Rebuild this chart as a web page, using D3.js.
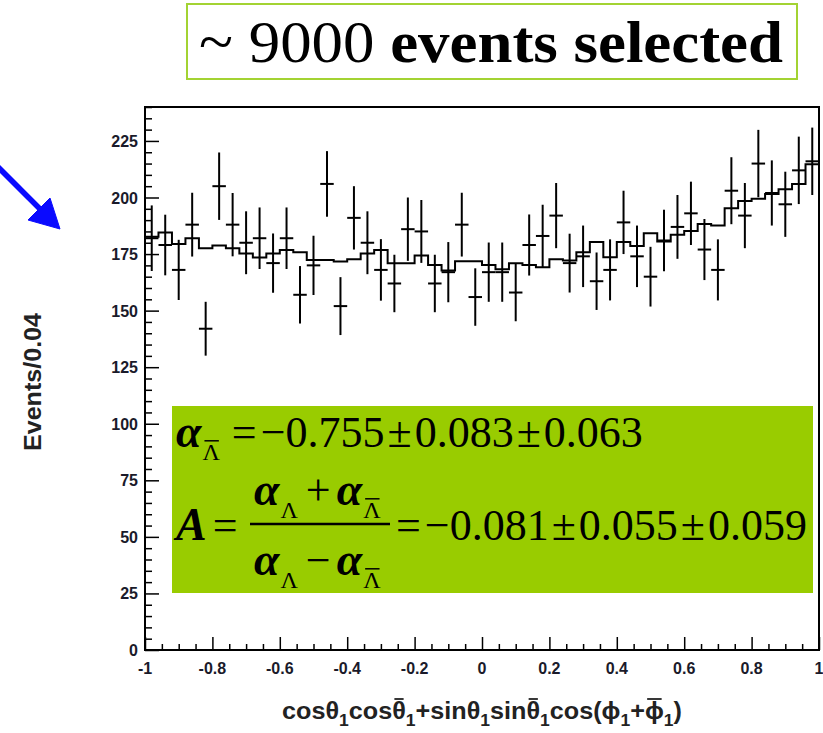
<!DOCTYPE html>
<html>
<head>
<meta charset="utf-8">
<script src="https://cdn.jsdelivr.net/npm/d3@7"></script>
<style>
    body { margin: 0; background: #fff; }
    svg { display: block; }
</style>
</head>
<body>
<div id="chart"></div>
<script>
// Histogram: 50 bins of 0.04 from -1 to 1
var xMin = -1, xMax = 1, nBins = 50;

// Data points (events per bin)
var counts = [182, 179, 168, 188, 142, 205, 188, 180, 182, 171,
              182, 157, 170, 206, 152, 191, 180, 168, 162, 186,
              185, 162, 167, 188, 156, 167, 167, 158, 179, 183,
              192, 171, 174, 163, 168, 189, 174, 165, 181, 187,
              193, 177, 168, 203, 192, 215, 202, 197, 212, 216];

// Half length of the error bars
var errors = [14.5, 13.4, 13.3, 14.1, 11.9, 14.9, 14.0, 13.9, 13.6, 13.1,
              13.6, 12.7, 13.1, 14.5, 12.8, 14.0, 13.9, 13.6, 12.7, 14.0,
              13.9, 12.7, 13.3, 14.1, 12.7, 13.1, 13.1, 12.7, 13.5, 13.8,
              14.4, 13.0, 13.6, 12.7, 13.5, 14.0, 13.6, 13.2, 13.6, 14.1,
              14.0, 13.5, 13.5, 14.8, 14.4, 14.9, 14.4, 14.4, 14.9, 14.9];

// Fit result (step histogram)
var fitValues = [182.7, 184.5, 179.5, 182.0, 177.6, 178.8, 177.6, 175.3, 173.5, 175.3,
                 176.8, 175.8, 172.4, 172.4, 171.7, 172.7, 175.3, 176.8, 170.9, 170.9,
                 174.4, 170.2, 167.7, 171.8, 171.8, 170.2, 168.3, 170.9, 170.2, 169.2,
                 172.7, 172.1, 175.8, 180.3, 173.6, 180.3, 178.6, 184.2, 180.6, 183.5,
                 185.2, 188.3, 187.6, 195.3, 198.5, 199.4, 201.5, 203.7, 206.0, 214.7];

// Tick labels
var xTickValues = [-1, -0.8, -0.6, -0.4, -0.2, 0, 0.2, 0.4, 0.6, 0.8, 1];
var xTickLabels = ['-1', '-0.8', '-0.6', '-0.4', '-0.2', '0', '0.2', '0.4', '0.6', '0.8', '1'];
var yTickValues = [0, 25, 50, 75, 100, 125, 150, 175, 200, 225];

var yTitle = 'Events/0.04';
var headline = ['~ 9000 ', 'events selected'];

var W = 823, H = 733;
var frame = { left: 145, right: 819, top: 107, bottom: 650 };

var svg = d3.select('#chart').append('svg')
    .attr('width', W)
    .attr('height', H);

var x = d3.scaleLinear().domain([xMin, xMax]).range([frame.left, frame.right]);
var y = d3.scaleLinear().domain([0, 240]).range([frame.bottom, frame.top]);

var binW = (xMax - xMin) / nBins;
var bins = counts.map(function (c, i) {
    var lo = xMin + i * binW;
    return { lo: lo, hi: lo + binW, mid: lo + binW / 2, n: c, err: errors[i], fit: fitValues[i] };
});

// Axes: ROOT style ticks pointing inward
var xAxis = svg.append('g')
    .attr('transform', 'translate(0,' + frame.bottom + ')')
    .call(d3.axisTop(x).tickValues(d3.range(-1, 1.0001, 0.05)).tickSize(6).tickFormat(''));
xAxis.selectAll('.tick line')
    .attr('y2', function (d) { return Math.abs(d * 5 - Math.round(d * 5)) < 1e-6 ? -13 : -6; });

var yAxis = svg.append('g')
    .attr('transform', 'translate(' + frame.left + ',0)')
    .call(d3.axisRight(y).tickValues(d3.range(0, 241, 5)).tickSize(7).tickFormat(''));
yAxis.selectAll('.tick line')
    .attr('x2', function (d) { return d % 25 === 0 ? 14 : 7; });

svg.selectAll('.domain').remove();
svg.selectAll('.tick line').attr('stroke', '#000').attr('stroke-width', 1.5);

// Frame
svg.append('rect')
    .attr('x', frame.left)
    .attr('y', frame.top)
    .attr('width', frame.right - frame.left)
    .attr('height', frame.bottom - frame.top)
    .attr('fill', 'none')
    .attr('stroke', '#000')
    .attr('stroke-width', 2);

// Tick labels
svg.selectAll('.xlab')
    .data(xTickValues)
    .enter().append('text')
    .attr('class', 'xlab')
    .attr('x', function (d) { return x(d); })
    .attr('y', 674)
    .attr('text-anchor', 'middle')
    .style('font-family', 'Liberation Sans, Arial, sans-serif')
    .style('font-weight', 'bold')
    .style('font-size', '16px')
    .attr('fill', '#1a1a2a')
    .text(function (d, i) { return xTickLabels[i]; });

svg.selectAll('.ylab')
    .data(yTickValues)
    .enter().append('text')
    .attr('class', 'ylab')
    .attr('x', 138)
    .attr('y', function (d) { return y(d) + 6; })
    .attr('text-anchor', 'end')
    .style('font-family', 'Liberation Sans, Arial, sans-serif')
    .style('font-weight', 'bold')
    .style('font-size', '16px')
    .attr('fill', '#1a1a2a')
    .text(function (d) { return d; });

// Axis titles
svg.append('text')
    .attr('transform', 'translate(41,382) rotate(-90)')
    .attr('text-anchor', 'middle')
    .attr('textLength', 138)
    .attr('lengthAdjust', 'spacingAndGlyphs')
    .style('font-family', 'Liberation Sans, Arial, sans-serif')
    .style('font-weight', 'bold')
    .style('font-size', '23px')
    .attr('fill', '#222')
    .text(yTitle);

// x title, written piece by piece so the bars sit over theta / phi
var xTitleParts = [
    { t: 'cos\u03b8' }, { t: '1', sub: true }, { t: 'cos' }, { t: '\u03b8', bar: true }, { t: '1', sub: true },
    { t: '+sin\u03b8' }, { t: '1', sub: true }, { t: 'sin' }, { t: '\u03b8', bar: true }, { t: '1', sub: true },
    { t: 'cos(\u03d5' }, { t: '1', sub: true }, { t: '+' }, { t: '\u03d5', bar: true }, { t: '1', sub: true },
    { t: ')' }
];
var xTitleG = svg.append('g');
var tx = 0;
xTitleParts.forEach(function (p) {
    var t = xTitleG.append('text')
        .attr('x', tx)
        .attr('y', p.sub ? 7 : 0)
        .style('font-family', 'Liberation Sans, Arial, sans-serif')
        .style('font-weight', 'bold')
        .style('font-size', p.sub ? '16px' : '23px')
        .attr('fill', '#222')
        .text(p.t);
    var w = t.node().getComputedTextLength();
    if (p.bar) {
        xTitleG.append('line')
            .attr('x1', tx + 2).attr('x2', tx + w - 2)
            .attr('y1', -20).attr('y2', -20)
            .attr('stroke', '#222').attr('stroke-width', 1.8);
    }
    tx += w;
});
var sx = 400 / tx;
xTitleG.attr('transform', 'translate(' + (482 - 200) + ',719) scale(' + sx + ',1)');

// Fit histogram (step line)
var stepPts = [];
bins.forEach(function (b) {
    stepPts.push([b.lo, b.fit]);
    stepPts.push([b.hi, b.fit]);
});
var line = d3.line()
    .x(function (d) { return x(d[0]); })
    .y(function (d) { return y(d[1]); });
svg.append('path')
    .datum(stepPts)
    .attr('d', line)
    .attr('fill', 'none')
    .attr('stroke', '#000')
    .attr('stroke-width', 2);

// Data points with error bars
var pts = svg.selectAll('.pt')
    .data(bins)
    .enter().append('g')
    .attr('class', 'pt');
pts.append('line')
    .attr('x1', function (d) { return x(d.mid); })
    .attr('x2', function (d) { return x(d.mid); })
    .attr('y1', function (d) { return y(d.n - d.err); })
    .attr('y2', function (d) { return y(d.n + d.err); })
    .attr('stroke', '#000')
    .attr('stroke-width', 2);
pts.append('line')
    .attr('x1', function (d) { return x(d.lo); })
    .attr('x2', function (d) { return x(d.hi); })
    .attr('y1', function (d) { return y(d.n); })
    .attr('y2', function (d) { return y(d.n); })
    .attr('stroke', '#000')
    .attr('stroke-width', 2);

// Headline box
svg.append('rect')
    .attr('x', 187).attr('y', 4)
    .attr('width', 610).attr('height', 75)
    .attr('fill', '#fff')
    .attr('stroke', '#a3d333')
    .attr('stroke-width', 2);
var head = svg.append('text')
    .attr('x', 199).attr('y', 62)
    .attr('textLength', 584)
    .attr('lengthAdjust', 'spacingAndGlyphs')
    .style('font-family', 'Liberation Serif, Times New Roman, serif')
    .style('font-size', '60px')
    .attr('fill', '#000');
head.append('tspan').text(headline[0]);
head.append('tspan').style('font-weight', 'bold').text(headline[1]);

// Result box
svg.append('rect')
    .attr('x', 172).attr('y', 406)
    .attr('width', 641).attr('height', 187)
    .attr('fill', '#99cc00');

var mathG = svg.append('g');

function writeRun(x0, y0, parts) {
    var cx = x0;
    parts.forEach(function (p) {
        cx += p.gap || 0;
        var dy = p.dy || 0;
        var t = mathG.append('text')
            .attr('x', cx)
            .attr('y', y0 + dy)
            .style('font-family', 'Liberation Serif, Times New Roman, serif')
            .style('font-size', p.size + 'px')
            .style('font-style', p.it ? 'italic' : 'normal')
            .style('font-weight', p.it ? 'bold' : 'normal')
            .attr('fill', '#000')
            .text(p.t);
        var w = t.node().getComputedTextLength();
        if (p.bar) {
            var by = y0 + dy - p.size * 0.8;
            mathG.append('line')
                .attr('x1', cx + 2).attr('x2', cx + w - 1)
                .attr('y1', by).attr('y2', by)
                .attr('stroke', '#000').attr('stroke-width', 1.5);
        }
        cx += w;
    });
    return cx;
}

var alpha = { t: '\u03b1', size: 46, it: true };
var subL = { t: '\u039b', size: 24, dy: 13, gap: 1 };
var subLbar = { t: '\u039b', size: 24, dy: 13, gap: 1, bar: true };

// Line 1
writeRun(176, 447, [
    alpha, subLbar,
    { t: '=', size: 44, gap: 12 },
    { t: '\u22120.755', size: 44, gap: 4 },
    { t: '\u00b1', size: 44, gap: 3 },
    { t: '0.083', size: 44, gap: 3 },
    { t: '\u00b1', size: 44, gap: 3 },
    { t: '0.063', size: 44, gap: 3 }
]);

// Line 2
writeRun(176, 540, [
    { t: 'A', size: 46, it: true },
    { t: '=', size: 44, gap: 6 }
]);
writeRun(254, 505, [
    alpha, subL,
    { t: '+', size: 44, gap: 8 },
    { t: '\u03b1', size: 46, it: true, gap: 6 }, subLbar
]);
writeRun(254, 575, [
    alpha, subL,
    { t: '\u2212', size: 44, gap: 8 },
    { t: '\u03b1', size: 46, it: true, gap: 6 }, subLbar
]);
mathG.append('line')
    .attr('x1', 250).attr('x2', 390)
    .attr('y1', 524).attr('y2', 524)
    .attr('stroke', '#000').attr('stroke-width', 2.5);
writeRun(396, 540, [
    { t: '=', size: 44 },
    { t: '\u22120.081', size: 44, gap: 4 },
    { t: '\u00b1', size: 44, gap: 3 },
    { t: '0.055', size: 44, gap: 3 },
    { t: '\u00b1', size: 44, gap: 3 },
    { t: '0.059', size: 44, gap: 3 }
]);

// Blue arrow pointing at the plot
var arrow = svg.append('g').attr('fill', '#0a0aff').attr('stroke', '#0a0aff');
arrow.append('line')
    .attr('x1', -2).attr('y1', 167)
    .attr('x2', 42).attr('y2', 211)
    .attr('stroke-width', 5.5);
arrow.append('polygon')
    .attr('points', '60,229 28,220 50,198')
    .attr('stroke-width', 1);
</script>
</body>
</html>
